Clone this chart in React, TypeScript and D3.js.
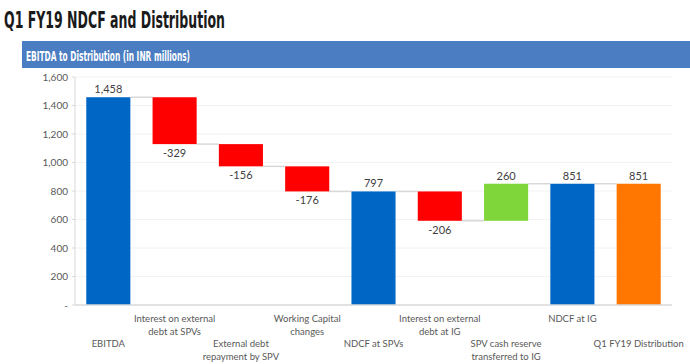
import * as d3 from "d3";

const CATEGORIES: string[][] = [
  ["EBITDA"],
  ["Interest on external", "debt at SPVs"],
  ["External debt", "repayment by SPV"],
  ["Working Capital", "changes"],
  ["NDCF at SPVs"],
  ["Interest on external", "debt at IG"],
  ["SPV cash reserve", "transferred to IG"],
  ["NDCF at IG"],
  ["Q1 FY19 Distribution"],
];
const VALUES = [1458, -329, -156, -176, 797, -206, 260, 851, 851];
const KINDS = ["total", "delta", "delta", "delta", "total", "delta", "delta", "total", "total"];
const TOTAL_COLORS = ["#0066c6", "", "", "", "#0066c6", "", "", "#0066c6", "#ff7700"];
const Y_TICKS = [0, 200, 400, 600, 800, 1000, 1200, 1400, 1600];

const W = 690;
const H = 364;
const margin = { left: 75, right: 18, top: 77, bottom: 59 };
const FONT = "'Lato', sans-serif";

export default function App() {
  // running totals for the waterfall
  let run = 0;
  const bars = VALUES.map((v, i) => {
    let y0: number, y1: number;
    if (KINDS[i] === "total") {
      y0 = 0;
      y1 = v;
      run = v;
    } else {
      y0 = run;
      y1 = run + v;
      run = y1;
    }
    const color = KINDS[i] === "total" ? TOTAL_COLORS[i] : v < 0 ? "#ff0000" : "#7ed63a";
    return { i, v, y0, y1, level: KINDS[i] === "total" ? v : y1, color };
  });

  const x = d3
    .scaleBand<number>()
    .domain(bars.map((b) => b.i))
    .range([margin.left, W - margin.right])
    .paddingInner(0.335)
    .paddingOuter(0.17);
  const y = d3.scaleLinear().domain([0, 1600]).range([H - margin.bottom, margin.top]);
  const fmt = (v: number) => d3.format(",")(v).replace("\u2212", "-");
  const bw = x.bandwidth();

  return (
    <svg
      width={W}
      height={H}
      style={{ position: "absolute", left: 0, top: 0, background: "#fff" }}
    >
      <text
        x={4}
        y={28}
        fontFamily="'DejaVu Sans', sans-serif"
        fontWeight="bold"
        fontSize={23}
        fill="#1a1a1a"
        textLength={221}
        lengthAdjust="spacingAndGlyphs"
      >
        Q1 FY19 NDCF and Distribution
      </text>
      <rect x={22} y={41} width={W - 22} height={27} fill="#4a7dc1" />
      <text
        x={26}
        y={61}
        fontFamily="'DejaVu Sans', sans-serif"
        fontWeight="bold"
        fontSize={13.5}
        fill="#fff"
        textLength={164}
        lengthAdjust="spacingAndGlyphs"
      >
        EBITDA to Distribution (in INR millions)
      </text>

      {/* gridlines */}
      {Y_TICKS.filter((t) => t > 0).map((t) => (
        <line
          key={t}
          x1={margin.left}
          x2={W - margin.right}
          y1={y(t)}
          y2={y(t)}
          stroke="#f2f2f2"
        />
      ))}
      {/* y tick labels */}
      {Y_TICKS.map((t) => (
        <g key={"t" + t}>
          <line x1={margin.left - 3} x2={margin.left} y1={y(t)} y2={y(t)} stroke="#d9d9d9" />
          <text
            x={68}
            y={y(t) + 3.5}
            textAnchor="end"
            fontFamily={FONT}
            fontSize={10}
            fill="#595959"
          >
            {t === 0 ? "-" : fmt(t)}
          </text>
        </g>
      ))}
      <line x1={margin.left} x2={margin.left} y1={y(1600)} y2={y(0)} stroke="#d9d9d9" />

      {/* connectors */}
      {bars.slice(0, -1).map((b) => (
        <line
          key={"c" + b.i}
          x1={(x(b.i) ?? 0) + bw}
          x2={x(b.i + 1) ?? 0}
          y1={y(b.level)}
          y2={y(b.level)}
          stroke="#d9d9d9"
          strokeWidth={1.5}
        />
      ))}

      {/* bars */}
      {bars.map((b) => (
        <rect
          key={"b" + b.i}
          x={x(b.i)}
          y={y(Math.max(b.y0, b.y1))}
          width={bw}
          height={Math.abs(y(b.y0) - y(b.y1))}
          fill={b.color}
        />
      ))}

      <line x1={margin.left} x2={W - margin.right} y1={y(0)} y2={y(0)} stroke="#d9d9d9" strokeWidth={1.5} />

      {/* value labels */}
      {bars.map((b) => {
        const cx = (x(b.i) ?? 0) + bw / 2;
        const below = b.v < 0;
        const yy = below ? y(Math.min(b.y0, b.y1)) + 13 : y(Math.max(b.y0, b.y1)) - 4;
        return (
          <text
            key={"v" + b.i}
            x={cx}
            y={yy}
            textAnchor="middle"
            fontFamily={FONT}
            fontSize={11}
            fill="#404040"
          >
            {fmt(b.v)}
          </text>
        );
      })}

      {/* category labels, staggered */}
      {CATEGORIES.map((lines, i) => {
        const cx = (x(i) ?? 0) + bw / 2;
        const top = i % 2 === 1 ? 322 : 347;
        return (
          <text
            key={"x" + i}
            textAnchor="middle"
            fontFamily={FONT}
            fontSize={9.5}
            fill="#595959"
          >
            {lines.map((l, k) => (
              <tspan key={k} x={cx} y={top + k * 13}>
                {l}
              </tspan>
            ))}
          </text>
        );
      })}
    </svg>
  );
}
